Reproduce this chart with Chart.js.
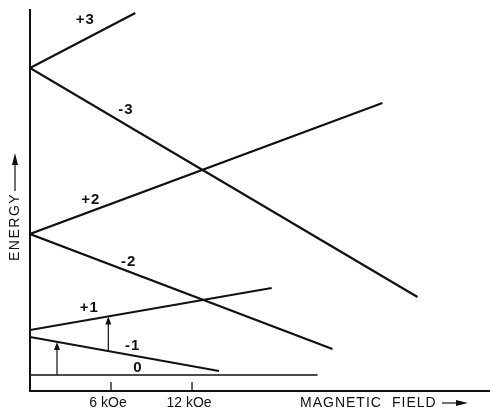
<!DOCTYPE html>
<html>
<head>
<meta charset="utf-8">
<script src="https://cdn.jsdelivr.net/npm/chart.js@4.4.1/dist/chart.umd.min.js"></script>
<style>
  html, body { margin: 0; padding: 0; background: #fff; }
  #wrap { width: 490px; height: 408px; position: relative; }
</style>
</head>
<body>
<div id="wrap"><canvas id="chart"></canvas></div>
<script>
// Zeeman-type level diagram: energy vs magnetic field (kOe)
const levelNames = ['+3', '-3', '+2', '-2', '+1', '-1', '0'];
const levelStartEnergy = [30.7, 30.7, 14.1, 14.1, 4.5, 3.8, 0];
const levelEndField = [7.8, 28.7, 26.1, 22.4, 17.9, 14.0, 21.3];
const levelEndEnergy = [36.2, 7.8, 27.2, 2.6, 8.7, 0.4, 0];

// where each level's label sits (field, energy)
const labelField = [4.1, 7.1, 4.5, 7.3, 4.4, 7.6, 8.0];
const labelEnergy = [35.5, 26.5, 17.5, 11.3, 6.7, 2.9, 0.7];

// transition arrows
const arrowField = [2.0, 5.8];
const arrowFrom = [0, 2.4];
const arrowTo = [3.3, 5.85];

const tickValues = [6, 12];
const tickLabels = ['6 kOe', '12 kOe'];

const INK = '#111';

const datasets = levelNames.map((name, i) => ({
    label: name,
    data: [{ x: 0, y: levelStartEnergy[i] }, { x: levelEndField[i], y: levelEndEnergy[i] }],
    borderColor: INK,
    borderWidth: name === '0' ? 1.6 : 2.2,
    pointRadius: 0,
    tension: 0,
    fill: false,
}));

const decorations = {
    id: 'decorations',
    afterDatasetsDraw(chart) {
        const { ctx, scales: { x, y }, chartArea } = chart;
        ctx.save();
        ctx.fillStyle = INK;
        ctx.strokeStyle = INK;

        // level labels
        ctx.font = 'bold 15px "Liberation Sans", Arial, sans-serif';
        ctx.letterSpacing = '1px';
        ctx.textAlign = 'center';
        ctx.textBaseline = 'middle';
        levelNames.forEach((name, i) => {
            ctx.fillText(name, x.getPixelForValue(labelField[i]), y.getPixelForValue(labelEnergy[i]));
        });

        // transition arrows
        ctx.lineWidth = 1.2;
        arrowField.forEach((f, i) => {
            const px = x.getPixelForValue(f);
            const y0 = y.getPixelForValue(arrowFrom[i]);
            const y1 = y.getPixelForValue(arrowTo[i]);
            ctx.beginPath();
            ctx.moveTo(px, y0);
            ctx.lineTo(px, y1 + 6);
            ctx.stroke();
            ctx.beginPath();
            ctx.moveTo(px, y1);
            ctx.lineTo(px - 3, y1 + 8);
            ctx.lineTo(px + 3, y1 + 8);
            ctx.closePath();
            ctx.fill();
        });

        // field ticks (drawn upward from the axis)
        ctx.lineWidth = 1.3;
        ctx.font = '14px "Liberation Sans", Arial, sans-serif';
        ctx.letterSpacing = '0px';
        tickValues.forEach((v, i) => {
            const px = x.getPixelForValue(v);
            ctx.beginPath();
            ctx.moveTo(px, chartArea.bottom);
            ctx.lineTo(px, chartArea.bottom - 9);
            ctx.stroke();
            ctx.fillText(tickLabels[i], px - 3, chartArea.bottom + 12);
        });

        // x axis title
        ctx.font = '14px "Liberation Sans", Arial, sans-serif';
        ctx.textAlign = 'left';
        ctx.letterSpacing = '1px';
        ctx.fillText('MAGNETIC', 300, chartArea.bottom + 12);
        ctx.fillText('FIELD', 392, chartArea.bottom + 12);
        ctx.letterSpacing = '0px';
        ctx.lineWidth = 1.2;
        const ay = chartArea.bottom + 12;
        ctx.beginPath();
        ctx.moveTo(442, ay);
        ctx.lineTo(460, ay);
        ctx.stroke();
        ctx.beginPath();
        ctx.moveTo(468, ay);
        ctx.lineTo(456, ay - 3);
        ctx.lineTo(456, ay + 3);
        ctx.closePath();
        ctx.fill();

        // y axis title
        ctx.save();
        ctx.translate(15, 261);
        ctx.rotate(-Math.PI / 2);
        ctx.font = '14px "Liberation Sans", Arial, sans-serif';
        ctx.letterSpacing = '1.5px';
        ctx.textAlign = 'left';
        ctx.fillText('ENERGY', 0, 0);
        ctx.beginPath();
        ctx.moveTo(70, 0);
        ctx.lineTo(100, 0);
        ctx.stroke();
        ctx.beginPath();
        ctx.moveTo(108, 0);
        ctx.lineTo(96, -3);
        ctx.lineTo(96, 3);
        ctx.closePath();
        ctx.fill();
        ctx.restore();

        ctx.restore();
    },
};

new Chart(document.getElementById('chart'), {
    type: 'line',
    data: { datasets },
    options: {
        responsive: true,
        maintainAspectRatio: false,
        animation: false,
        layout: { padding: { left: 30, top: 10, right: 0, bottom: 17 } },
        plugins: {
            legend: { display: false },
            tooltip: { enabled: false },
        },
        scales: {
            x: {
                type: 'linear',
                min: 0,
                max: 34.07,
                ticks: { display: false },
                grid: { display: false, drawTicks: false },
                border: { display: true, color: INK, width: 2 },
            },
            y: {
                type: 'linear',
                min: -1.6,
                max: 36.5,
                ticks: { display: false },
                grid: { display: false, drawTicks: false },
                border: { display: true, color: INK, width: 2 },
            },
        },
    },
    plugins: [decorations],
});
</script>
</body>
</html>
